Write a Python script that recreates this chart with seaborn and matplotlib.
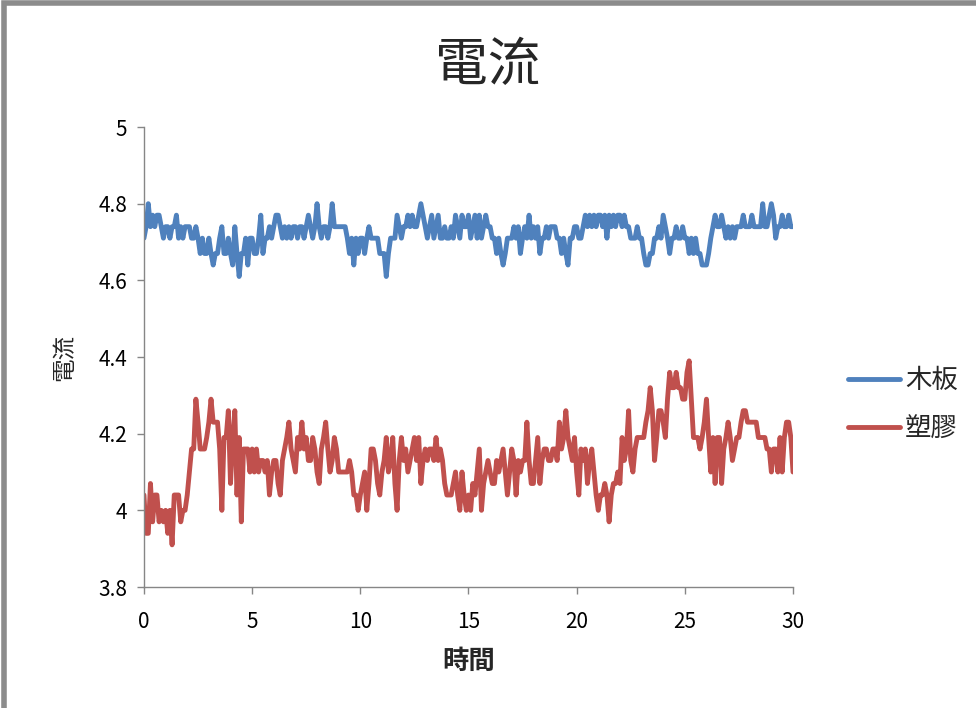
import numpy as np
import pandas as pd
import matplotlib
matplotlib.use("Agg")
import matplotlib.pyplot as plt
import seaborn as sns
from matplotlib.patches import Rectangle

sns.set_theme(style="white")
plt.rcParams['font.family'] = ['Noto Sans CJK TC', 'DejaVu Sans']

title = "電流"
x_label = "時間"
y_label = "電流"
series_names = ["木板", "塑膠"]
x_ticks = [0, 5, 10, 15, 20, 25, 30]
y_ticks = [3.8, 4.0, 4.2, 4.4, 4.6, 4.8, 5.0]
y_ticklabels = ["3.8", "4", "4.2", "4.4", "4.6", "4.8", "5"]

time_s = np.round(np.arange(301) * 0.1, 1)

wood = [
    4.71, 4.74, 4.80, 4.74, 4.77, 4.74, 4.77, 4.77, 4.74, 4.71,
    4.74, 4.74, 4.71, 4.74, 4.74, 4.77, 4.71, 4.74, 4.71, 4.74,
    4.74, 4.74, 4.71, 4.71, 4.74, 4.71, 4.67, 4.71, 4.67, 4.67,
    4.71, 4.67, 4.64, 4.67, 4.67, 4.71, 4.74, 4.67, 4.67, 4.71,
    4.67, 4.64, 4.74, 4.67, 4.61, 4.67, 4.67, 4.71, 4.64, 4.71,
    4.71, 4.67, 4.67, 4.71, 4.77, 4.67, 4.71, 4.71, 4.74, 4.71,
    4.74, 4.77, 4.77, 4.74, 4.71, 4.74, 4.71, 4.74, 4.71, 4.74,
    4.74, 4.71, 4.74, 4.74, 4.71, 4.74, 4.77, 4.74, 4.71, 4.74,
    4.80, 4.74, 4.71, 4.74, 4.74, 4.71, 4.74, 4.80, 4.74, 4.74,
    4.74, 4.74, 4.74, 4.74, 4.71, 4.67, 4.71, 4.64, 4.71, 4.67,
    4.71, 4.71, 4.67, 4.71, 4.74, 4.71, 4.71, 4.71, 4.71, 4.67,
    4.67, 4.67, 4.61, 4.67, 4.71, 4.71, 4.71, 4.77, 4.74, 4.71,
    4.74, 4.74, 4.77, 4.74, 4.77, 4.74, 4.74, 4.77, 4.80, 4.77,
    4.74, 4.71, 4.74, 4.77, 4.71, 4.74, 4.77, 4.71, 4.71, 4.74,
    4.71, 4.71, 4.74, 4.71, 4.77, 4.74, 4.71, 4.77, 4.74, 4.74,
    4.77, 4.71, 4.74, 4.77, 4.71, 4.77, 4.71, 4.74, 4.77, 4.74,
    4.74, 4.71, 4.71, 4.67, 4.71, 4.67, 4.64, 4.67, 4.71, 4.71,
    4.71, 4.74, 4.71, 4.74, 4.67, 4.71, 4.74, 4.71, 4.77, 4.71,
    4.74, 4.71, 4.74, 4.67, 4.71, 4.71, 4.74, 4.71, 4.74, 4.74,
    4.74, 4.71, 4.71, 4.67, 4.71, 4.67, 4.64, 4.71, 4.71, 4.74,
    4.74, 4.71, 4.71, 4.74, 4.77, 4.74, 4.77, 4.74, 4.77, 4.74,
    4.77, 4.77, 4.74, 4.77, 4.71, 4.77, 4.74, 4.77, 4.74, 4.77,
    4.77, 4.74, 4.77, 4.74, 4.74, 4.71, 4.71, 4.71, 4.74, 4.71,
    4.71, 4.67, 4.64, 4.64, 4.67, 4.67, 4.71, 4.71, 4.74, 4.71,
    4.77, 4.74, 4.71, 4.67, 4.71, 4.71, 4.74, 4.71, 4.71, 4.74,
    4.71, 4.71, 4.67, 4.71, 4.67, 4.71, 4.67, 4.67, 4.64, 4.64,
    4.64, 4.67, 4.71, 4.74, 4.77, 4.74, 4.74, 4.77, 4.74, 4.71,
    4.74, 4.71, 4.74, 4.71, 4.74, 4.74, 4.74, 4.77, 4.74, 4.74,
    4.74, 4.77, 4.74, 4.74, 4.74, 4.74, 4.80, 4.74, 4.74, 4.77,
    4.80, 4.77, 4.71, 4.74, 4.74, 4.77, 4.74, 4.74, 4.77, 4.74,
    4.74,
]

plastic = [
    4.04, 3.94, 3.94, 4.07, 3.97, 4.04, 4.04, 3.97, 4.00, 3.97,
    4.00, 3.94, 4.00, 3.91, 4.04, 4.04, 4.04, 3.97, 4.00, 4.00,
    4.04, 4.10, 4.16, 4.16, 4.29, 4.23, 4.16, 4.16, 4.16, 4.19,
    4.23, 4.29, 4.23, 4.23, 4.23, 4.16, 4.00, 4.19, 4.19, 4.26,
    4.07, 4.19, 4.26, 4.04, 4.19, 3.97, 4.16, 4.16, 4.16, 4.10,
    4.16, 4.10, 4.16, 4.10, 4.13, 4.13, 4.10, 4.13, 4.04, 4.10,
    4.13, 4.13, 4.07, 4.04, 4.13, 4.16, 4.19, 4.23, 4.16, 4.13,
    4.10, 4.19, 4.16, 4.23, 4.16, 4.19, 4.13, 4.13, 4.19, 4.16,
    4.10, 4.07, 4.16, 4.19, 4.23, 4.16, 4.10, 4.13, 4.19, 4.16,
    4.10, 4.10, 4.10, 4.10, 4.10, 4.13, 4.10, 4.04, 4.04, 4.00,
    4.04, 4.07, 4.10, 4.00, 4.07, 4.16, 4.16, 4.13, 4.07, 4.04,
    4.10, 4.13, 4.19, 4.10, 4.13, 4.19, 4.07, 4.00, 4.13, 4.19,
    4.13, 4.16, 4.10, 4.13, 4.16, 4.19, 4.13, 4.19, 4.07, 4.13,
    4.16, 4.13, 4.16, 4.16, 4.13, 4.19, 4.13, 4.16, 4.13, 4.07,
    4.04, 4.04, 4.04, 4.07, 4.10, 4.04, 4.00, 4.10, 4.04, 4.00,
    4.04, 4.00, 4.07, 4.04, 4.10, 4.16, 4.00, 4.07, 4.10, 4.13,
    4.10, 4.07, 4.07, 4.13, 4.10, 4.13, 4.16, 4.10, 4.04, 4.10,
    4.16, 4.13, 4.04, 4.13, 4.10, 4.13, 4.13, 4.23, 4.13, 4.07,
    4.07, 4.13, 4.19, 4.07, 4.13, 4.16, 4.16, 4.13, 4.13, 4.16,
    4.16, 4.13, 4.23, 4.16, 4.19, 4.26, 4.19, 4.16, 4.13, 4.19,
    4.10, 4.04, 4.16, 4.13, 4.16, 4.07, 4.13, 4.16, 4.10, 4.04,
    4.00, 4.04, 4.04, 4.07, 4.04, 3.97, 4.04, 4.07, 4.07, 4.10,
    4.07, 4.19, 4.13, 4.16, 4.26, 4.13, 4.10, 4.16, 4.19, 4.19,
    4.19, 4.19, 4.23, 4.26, 4.32, 4.26, 4.13, 4.19, 4.26, 4.26,
    4.23, 4.19, 4.29, 4.36, 4.32, 4.32, 4.36, 4.32, 4.32, 4.29,
    4.29, 4.36, 4.39, 4.29, 4.19, 4.19, 4.19, 4.16, 4.19, 4.23,
    4.29, 4.19, 4.10, 4.19, 4.07, 4.19, 4.19, 4.07, 4.16, 4.19,
    4.23, 4.19, 4.13, 4.16, 4.19, 4.19, 4.23, 4.26, 4.26, 4.23,
    4.23, 4.23, 4.23, 4.23, 4.19, 4.19, 4.19, 4.19, 4.16, 4.16,
    4.10, 4.16, 4.16, 4.10, 4.19, 4.10, 4.19, 4.23, 4.23, 4.19,
    4.10,
]

colors = ["#4F81BD", "#C0504D"]

df = pd.DataFrame({
    "time": np.concatenate([time_s, time_s]),
    "value": np.concatenate([wood, plastic]),
    "series": [series_names[0]] * len(time_s) + [series_names[1]] * len(time_s),
})

fig = plt.figure(figsize=(9.76, 7.08), dpi=100)
ax = fig.add_axes([0.1475, 0.1709, 0.665, 0.6497])

sns.lineplot(data=df, x="time", y="value", hue="series", palette=colors,
             linewidth=3.5, ax=ax, legend=False, estimator=None, sort=False)

ax.set_xlim(0, 30)
ax.set_ylim(3.8, 5.0)
ax.set_xticks(x_ticks)
ax.set_xticklabels([str(t) for t in x_ticks])
ax.set_yticks(y_ticks)
ax.set_yticklabels(y_ticklabels)
ax.tick_params(axis="both", labelsize=15, labelcolor="#000000", length=5, width=1,
               direction="out", bottom=True, left=True, color="#868686")
ax.tick_params(axis="x", pad=12)
ax.tick_params(axis="y", pad=7)

for s in ["top", "right"]:
    ax.spines[s].set_visible(False)
for s in ["left", "bottom"]:
    ax.spines[s].set_color("#868686")
    ax.spines[s].set_linewidth(1.0)

ax.set_xlabel(x_label, fontsize=19, fontweight="bold", labelpad=11)
ax.set_ylabel(y_label, fontsize=17, labelpad=16)

fig.text(0.5, 0.908, title, ha="center", va="center", fontsize=38)

handles = [plt.Line2D([], [], color=c, lw=3.5) for c in colors]
fig.legend(handles, series_names, loc="center left",
           bbox_to_anchor=(0.869, 0.428), frameon=False, fontsize=19,
           handlelength=1.95, labelspacing=0.8, handletextpad=0.2,
           borderaxespad=0, borderpad=0)

fig.patches.append(Rectangle((0.004, -0.01), 1.2, 1.006, transform=fig.transFigure,
                             fill=False, edgecolor="#8c8c8c", linewidth=4))

fig.savefig("out.png", dpi=100, facecolor="white")
